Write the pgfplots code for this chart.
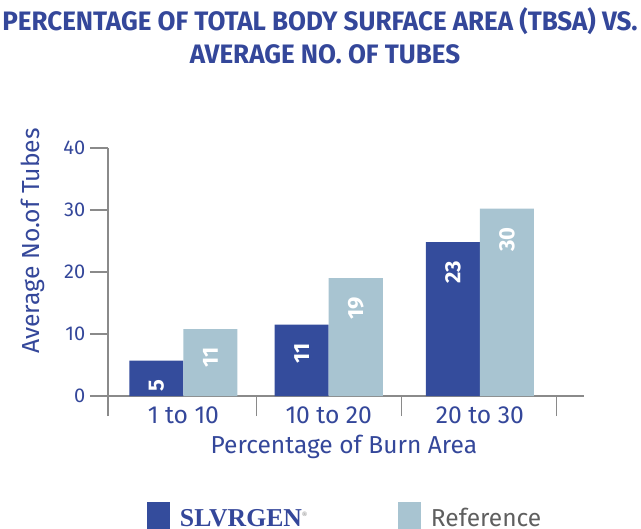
\documentclass[border=0pt]{standalone}
\usepackage{pgfplots}
\pgfplotsset{compat=1.18}
\usepackage{pgfplotstable}
\usepackage{fontspec}
\setmainfont{Fira Sans}
\newfontfamily\titlefont[FakeStretch=0.975]{Fira Sans}
\newfontfamily\legserif{Liberation Serif}
\definecolor{tblue}{HTML}{34479A}
\definecolor{dbar}{HTML}{344C9C}
\definecolor{lbar}{HTML}{A8C4D1}
\definecolor{agray}{HTML}{8A8A8A}
\definecolor{rgray}{HTML}{5F5F5F}
\pgfplotstableread{
x y lab
0 5.7 5
0.98 11.5 11
2 24.8 23
}\slv
\pgfplotstableread{
x y lab
0 10.8 11
0.98 19.0 19
2 30.2 30
}\refd
\begin{document}
\begin{tikzpicture}
\useasboundingbox (-81pt,-99pt) rectangle (399.75pt,297pt);
\begin{axis}[
  at={(0,0)}, anchor=south west,
  scale only axis, width=356.8pt, height=186.1pt,
  xmin=-0.509, xmax=2.70, ymin=0, ymax=40,
  /pgf/number format/assume math mode=true,
  axis x line=bottom, axis y line=left,
  axis line style={agray, line width=1.4pt, -},
  ybar=0pt, bar width=40.5pt,
  xtick={0,0.98,2}, xticklabels={1 to 10,10 to 20,20 to 30},
  minor xtick={-0.509,0.494,1.472,2.517},
  ytick={0,10,20,30,40},
  tick align=outside,
  major tick length=13.5pt, minor tick length=15pt,
  major x tick style={draw=none},
  minor x tick style={agray, line width=1.1pt},
  major y tick style={agray, line width=1.1pt},
  xticklabel style={font=\fontsize{18.5}{18.5}\selectfont, text=tblue, anchor=base, yshift=-7pt},
  yticklabel style={font=\fontsize{15}{15}\selectfont, text=tblue},
  xlabel={Percentage of Burn Area},
  ylabel={Average No.of Tubes},
  xlabel style={font=\fontsize{18.4}{18.4}\selectfont, text=tblue, at={(axis description cs:0.496,-0.23)}, anchor=base},
  ylabel style={font=\fontsize{18.5}{18.5}\selectfont, text=tblue, at={(axis description cs:-0.145,0.625)}, rotate=0, anchor=base},
  nodes near coords, point meta=explicit,
  every node near coord/.append style={yshift=-10.5pt, rotate=90, anchor=east, text=white, font=\fontsize{16.5}{16.5}\selectfont\bfseries},
  legend columns=2,
  legend style={draw=none, fill=none, inner sep=0pt, outer sep=0pt,
    at={(axis description cs:0.0819,-0.4274)}, anchor=north west,
    nodes={inner sep=0pt, text width=163.5pt, anchor=base west},
    /tikz/every odd column/.append style={column sep=7.5pt},
    /tikz/every even column/.append style={column sep=0pt}},
  legend image code/.code={\fill[#1] (0pt,-8pt) rectangle (17.25pt,18pt);},
]
\addplot[fill=dbar, draw=none] table[x=x, y=y, meta=lab] {\slv};
\addlegendentry{{\legserif\bfseries\fontsize{19.3}{19.3}\selectfont\color{tblue}SLVRGEN\textsuperscript{\color{agray}\tiny\textregistered}}}
\addplot[fill=lbar, draw=none] table[x=x, y=y, meta=lab] {\refd};
\addlegendentry{{\fontsize{18.4}{18.4}\selectfont\color{rgray}Reference}}
\end{axis}
\node[anchor=base, text=tblue, font=\titlefont\bfseries\fontsize{20}{20}\selectfont] at (159pt,273.75pt) {PERCENTAGE OF TOTAL BODY SURFACE AREA (TBSA) VS.};
\node[anchor=base, text=tblue, font=\titlefont\bfseries\fontsize{20}{20}\selectfont] at (162.75pt,249pt) {AVERAGE NO. OF TUBES};
\end{tikzpicture}
\end{document}
